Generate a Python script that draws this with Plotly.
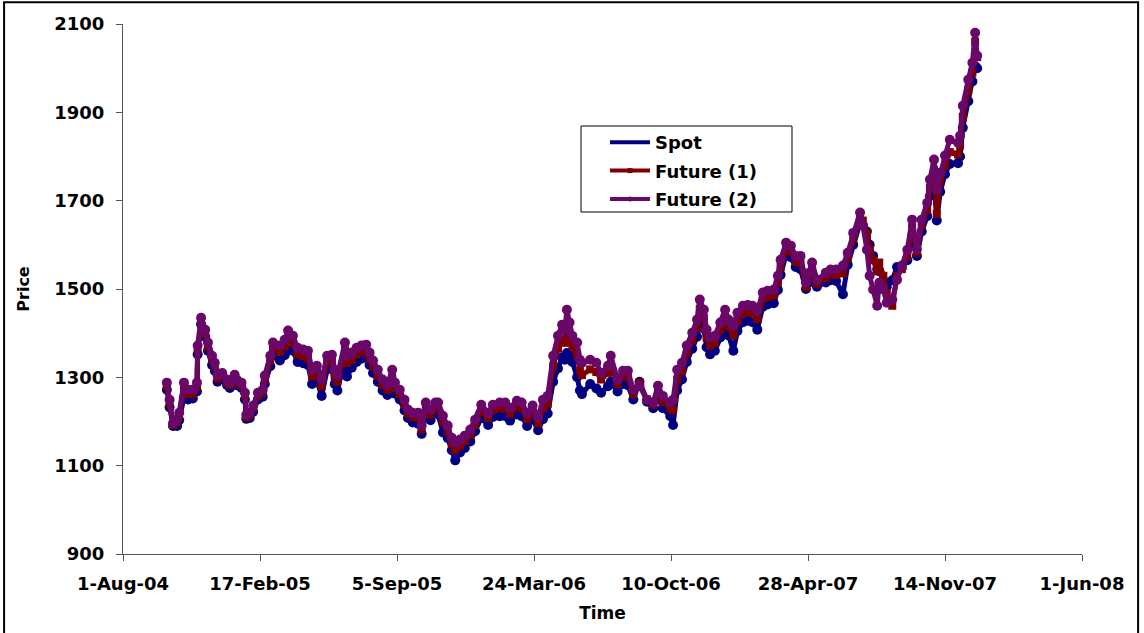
import plotly.graph_objects as go

# datas das observações
datas = [
    "2004-10-04", "2004-10-08", "2004-10-13", "2004-10-19", "2004-10-22", "2004-10-29",
    "2004-11-04", "2004-11-11", "2004-11-17", "2004-11-18", "2004-11-23", "2004-11-29",
    "2004-12-03", "2004-12-09", "2004-12-13", "2004-12-17", "2004-12-24", "2004-12-31",
    "2005-01-04", "2005-01-11", "2005-01-14", "2005-01-21", "2005-01-26", "2005-01-28",
    "2005-02-02", "2005-02-07", "2005-02-14", "2005-02-21", "2005-02-24", "2005-03-04",
    "2005-03-08", "2005-03-18", "2005-03-25", "2005-03-30", "2005-04-06", "2005-04-13",
    "2005-04-21", "2005-04-28", "2005-05-04", "2005-05-11", "2005-05-18", "2005-05-26",
    "2005-06-02", "2005-06-06", "2005-06-10", "2005-06-21", "2005-06-24", "2005-07-01",
    "2005-07-08", "2005-07-15", "2005-07-22", "2005-07-27", "2005-08-01", "2005-08-08",
    "2005-08-15", "2005-08-22", "2005-08-29", "2005-09-02", "2005-09-09", "2005-09-16",
    "2005-09-21", "2005-09-28", "2005-10-06", "2005-10-11", "2005-10-17", "2005-10-24",
    "2005-10-31", "2005-11-04", "2005-11-11", "2005-11-18", "2005-11-24", "2005-11-29",
    "2005-12-06", "2005-12-13", "2005-12-21", "2005-12-28", "2006-01-06", "2006-01-16",
    "2006-01-23", "2006-02-02", "2006-02-10", "2006-02-17", "2006-02-27", "2006-03-06",
    "2006-03-14", "2006-03-22", "2006-03-30", "2006-04-06", "2006-04-13", "2006-04-21",
    "2006-04-28", "2006-05-04", "2006-05-08", "2006-05-11", "2006-05-15", "2006-05-19",
    "2006-05-26", "2006-05-30", "2006-06-02", "2006-06-14", "2006-06-23", "2006-06-30",
    "2006-07-10", "2006-07-14", "2006-07-24", "2006-08-01", "2006-08-08", "2006-08-16",
    "2006-08-25", "2006-09-05", "2006-09-14", "2006-09-21", "2006-09-28", "2006-10-09",
    "2006-10-13", "2006-10-19", "2006-10-26", "2006-11-02", "2006-11-10", "2006-11-17",
    "2006-11-21", "2006-11-27", "2006-12-01", "2006-12-06", "2006-12-13", "2006-12-21",
    "2006-12-28", "2007-01-02", "2007-01-09", "2007-01-15", "2007-01-23", "2007-01-30",
    "2007-02-06", "2007-02-13", "2007-02-21", "2007-02-28", "2007-03-09", "2007-03-15",
    "2007-03-19", "2007-03-27", "2007-04-03", "2007-04-10", "2007-04-17", "2007-04-25",
    "2007-04-30", "2007-05-04", "2007-05-11", "2007-05-24", "2007-05-31", "2007-06-08",
    "2007-06-18", "2007-06-25", "2007-07-03", "2007-07-13", "2007-07-17", "2007-07-23",
    "2007-07-27", "2007-08-01", "2007-08-07", "2007-08-10", "2007-08-16", "2007-08-21",
    "2007-08-29", "2007-09-05", "2007-09-12", "2007-09-20", "2007-09-27", "2007-10-04",
    "2007-10-11", "2007-10-19", "2007-10-23", "2007-10-29", "2007-11-02", "2007-11-07",
    "2007-11-14", "2007-11-21", "2007-12-03", "2007-12-06", "2007-12-10", "2007-12-18",
    "2007-12-24", "2007-12-28", "2007-12-31",
]

spot = [
    1272, 1232, 1190, 1190, 1203, 1255,
    1250, 1252, 1268, 1352, 1420, 1392,
    1360, 1328, 1315, 1290, 1296, 1282,
    1276, 1292, 1282, 1276, 1250, 1206,
    1208, 1222, 1250, 1256, 1285, 1325,
    1350, 1338, 1350, 1362, 1360, 1335,
    1332, 1328, 1285, 1293, 1258, 1318,
    1320, 1285, 1270, 1345, 1302, 1322,
    1335, 1342, 1345, 1328, 1310, 1290,
    1270, 1260, 1280, 1263, 1250, 1225,
    1208, 1198, 1195, 1172, 1220, 1203,
    1220, 1216, 1175, 1163, 1135, 1112,
    1130, 1140, 1155, 1178, 1208, 1192,
    1210, 1212, 1212, 1202, 1216, 1212,
    1190, 1205, 1180, 1205, 1218, 1290,
    1320, 1345, 1340, 1355, 1350, 1335,
    1300, 1270, 1262, 1285, 1275, 1265,
    1280, 1290, 1268, 1285, 1282, 1250,
    1290, 1245, 1230, 1255, 1230, 1212,
    1192, 1270, 1295, 1335, 1365, 1392,
    1430, 1410, 1368, 1352, 1360, 1390,
    1415, 1395, 1360, 1405, 1425, 1428,
    1425, 1408, 1460, 1465, 1468, 1498,
    1532, 1578, 1572, 1550, 1545, 1500,
    1515, 1535, 1505, 1515, 1520, 1518,
    1488, 1555, 1600, 1650, 1645, 1630,
    1600, 1575, 1545, 1540, 1520, 1505,
    1520, 1550, 1548, 1565, 1620, 1575,
    1630, 1665, 1710, 1745, 1655, 1720,
    1760, 1783, 1785, 1800, 1865, 1925,
    1970, 2005, 2000,
]

future_1 = [
    1280, 1240, 1192, 1198, 1212, 1275,
    1262, 1262, 1278, 1362, 1428, 1400,
    1370, 1340, 1325, 1297, 1303, 1288,
    1282, 1298, 1288, 1282, 1258, 1210,
    1214, 1230, 1258, 1265, 1295, 1338,
    1365, 1358, 1370, 1385, 1378, 1352,
    1348, 1344, 1302, 1310, 1280, 1335,
    1337, 1302, 1290, 1362, 1333, 1340,
    1352, 1358, 1360, 1342, 1325, 1303,
    1283, 1272, 1300, 1276, 1262, 1238,
    1218, 1210, 1208, 1182, 1232, 1216,
    1232, 1230, 1200, 1178, 1150, 1135,
    1145, 1155, 1170, 1192, 1225, 1208,
    1226, 1230, 1230, 1218, 1234, 1230,
    1206, 1222, 1196, 1230, 1240, 1325,
    1365, 1385, 1378, 1395, 1390, 1370,
    1350, 1315, 1305, 1318, 1312, 1295,
    1310, 1328, 1285, 1303, 1302, 1262,
    1288, 1250, 1238, 1268, 1245, 1230,
    1225, 1295, 1315, 1355, 1385, 1412,
    1455, 1435, 1390, 1372, 1378, 1408,
    1435, 1415, 1395, 1428, 1445, 1448,
    1445, 1432, 1478, 1482, 1485, 1515,
    1550, 1592, 1585, 1562, 1560, 1505,
    1525, 1548, 1512, 1525, 1532, 1532,
    1535, 1570, 1615, 1665, 1655, 1625,
    1590, 1565, 1540, 1560, 1530, 1490,
    1462, 1530, 1545, 1575, 1640, 1582,
    1645, 1680, 1730, 1770, 1670, 1745,
    1780, 1810, 1805, 1825, 1890, 1950,
    1990, 2060, 2025,
]

future_2 = [
    1288, 1249, 1196, 1205, 1220, 1288,
    1272, 1272, 1288, 1372, 1435, 1408,
    1379, 1349, 1333, 1304, 1310, 1295,
    1288, 1306, 1295, 1288, 1265, 1215,
    1220, 1236, 1265, 1272, 1304, 1349,
    1379, 1372, 1385, 1406, 1394, 1367,
    1363, 1360, 1317, 1326, 1295, 1349,
    1351, 1317, 1304, 1379, 1349, 1356,
    1367, 1372, 1374, 1356, 1338, 1317,
    1295, 1283, 1317, 1288, 1272, 1249,
    1227, 1220, 1220, 1191, 1243, 1227,
    1243, 1243, 1213, 1191, 1163, 1152,
    1159, 1168, 1182, 1204, 1238, 1220,
    1238, 1243, 1243, 1231, 1247, 1243,
    1220, 1236, 1209, 1249, 1258, 1349,
    1394, 1419, 1408, 1453, 1424, 1394,
    1379, 1340, 1333, 1340, 1333, 1310,
    1326, 1349, 1295, 1315, 1315, 1272,
    1281, 1249, 1243, 1281, 1258, 1243,
    1249, 1317, 1333, 1372, 1401, 1431,
    1476, 1453, 1408, 1390, 1394, 1424,
    1453, 1431, 1417, 1446, 1462, 1464,
    1462, 1451, 1492, 1496, 1499, 1530,
    1566, 1605, 1598, 1575, 1575, 1514,
    1537, 1560, 1521, 1537, 1544, 1544,
    1553, 1582, 1627, 1673, 1644, 1589,
    1530, 1499, 1462, 1514, 1499, 1469,
    1476, 1521, 1553, 1589, 1657, 1590,
    1657, 1695, 1748, 1793, 1725, 1763,
    1802, 1838, 1831, 1847, 1915, 1974,
    2012, 2080, 2028,
]

# marcas do eixo x (a cada 200 dias) e rótulos
ticks_x = ["2004-08-01", "2005-02-17", "2005-09-05", "2006-03-24",
           "2006-10-10", "2007-04-28", "2007-11-14", "2008-06-01"]
rotulos_x = ["1-Aug-04", "17-Feb-05", "5-Sep-05", "24-Mar-06",
             "10-Oct-06", "28-Apr-07", "14-Nov-07", "1-Jun-08"]
ticks_y = [900, 1100, 1300, 1500, 1700, 1900, 2100]

fonte = "DejaVu Sans, Arial, sans-serif"
AZUL, VERMELHO, ROXO = "#000080", "#800000", "#6a086a"

fig = go.Figure()
series = [("Spot", spot, AZUL, "circle", 10),
          ("Future (1)", future_1, VERMELHO, "square", 8),
          ("Future (2)", future_2, ROXO, "circle", 10)]
for nome, valores, cor, simbolo, tam in series:
    fig.add_trace(go.Scatter(x=datas, y=valores, name=nome, mode="lines+markers",
                             line=dict(color=cor, width=5),
                             marker=dict(symbol=simbolo, size=tam, color=cor),
                             showlegend=False))

# entradas da legenda (marcadores pequenos, como no original)
for i, (nome, valores, cor, simbolo, tam) in enumerate(series):
    fig.add_trace(go.Scatter(x=[None], y=[None], name="<b>%s</b>" % nome,
                             mode="lines" if i == 0 else "lines+markers",
                             line=dict(color=cor, width=4),
                             marker=dict(symbol=simbolo, size=5, color=cor),
                             legendgroup="g%d" % i))

fig.update_layout(
    width=1144, height=633,
    margin=dict(l=123, r=62, t=24, b=79),
    paper_bgcolor="white", plot_bgcolor="white",
    font=dict(family=fonte, color="black", size=17),
    showlegend=True,
    legend=dict(x=0.5026, y=0.8113, xanchor="left", yanchor="top",
                bgcolor="rgba(0,0,0,0)", borderwidth=0,
                font=dict(family=fonte, size=18, color="black"),
                traceorder="grouped", tracegroupgap=2, itemwidth=40),
    xaxis=dict(
        type="date", range=["2004-08-01", "2008-06-01"],
        tickvals=ticks_x, ticktext=["<b>%s</b>" % r for r in rotulos_x],
        showgrid=False, zeroline=False, automargin=False,
        showline=True, linecolor="#555555", linewidth=1,
        ticks="outside", ticklen=6, tickcolor="#555555",
        ticklabelstandoff=7,
        tickfont=dict(family=fonte, size=18, color="black"),
        title=dict(text="<b>Time</b>", font=dict(family=fonte, size=17), standoff=14),
    ),
    yaxis=dict(
        range=[900, 2100], tickvals=ticks_y,
        ticktext=["<b>%d</b>" % v for v in ticks_y],
        showgrid=False, zeroline=False, automargin=False,
        showline=True, linecolor="#555555", linewidth=1,
        ticks="outside", ticklen=6, tickcolor="#555555",
        ticklabelstandoff=8,
        tickfont=dict(family=fonte, size=18, color="black"),
        title=dict(text="<b>Price</b>", font=dict(family=fonte, size=16), standoff=20),
    ),
)

# caixa da legenda
fig.add_shape(type="rect", xref="paper", yref="paper",
              x0=0.4776, x1=0.6976, y0=0.6453, y1=0.8075,
              line=dict(color="black", width=1), fillcolor="white", layer="below")

# moldura da área do gráfico (a borda de baixo fica fora da imagem)
fig.add_shape(type="rect", xref="paper", yref="paper",
              x0=-0.124, x1=1.0585, y0=-0.17, y1=1.041,
              line=dict(color="black", width=2), fillcolor="rgba(0,0,0,0)", layer="below")

fig.write_html("out.html", config={"displayModeBar": False},
               post_script="document.body.style.margin = '0px';")
